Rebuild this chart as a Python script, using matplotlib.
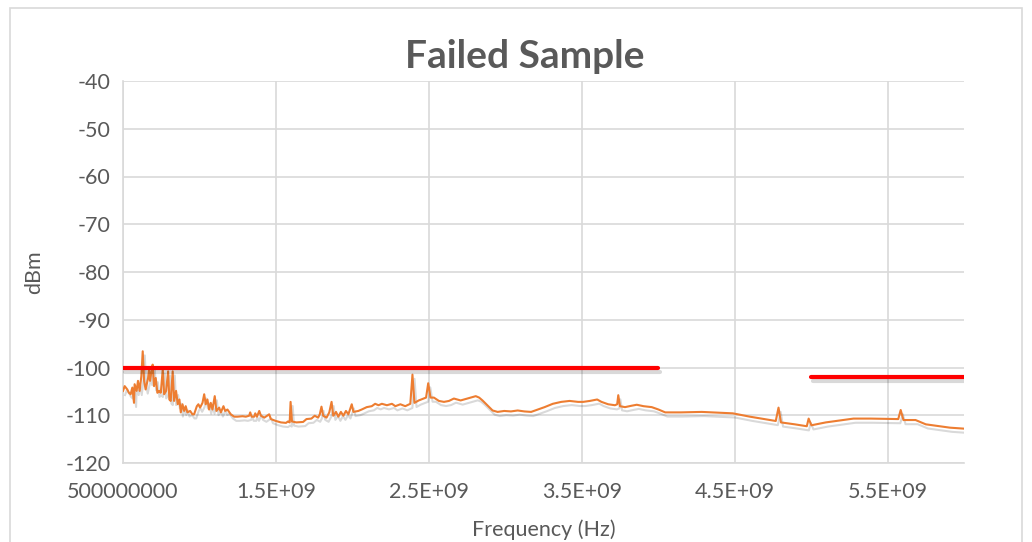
import matplotlib.pyplot as plt
import matplotlib.patheffects as pe
from matplotlib.patches import Rectangle

# trace: frequency in GHz, level in dBm
freq_ghz = [0.500, 0.511, 0.528, 0.539, 0.550, 0.561, 0.572, 0.576, 0.589, 0.598,
            0.609, 0.620, 0.629, 0.638, 0.648, 0.664, 0.670, 0.677, 0.686, 0.694,
            0.703, 0.714, 0.725, 0.736, 0.747, 0.760, 0.769, 0.782, 0.795, 0.803,
            0.812, 0.825, 0.834, 0.847, 0.858, 0.869, 0.878, 0.889, 0.900, 0.910,
            0.921, 0.939, 0.954, 0.965, 0.983, 0.993, 1.004, 1.020, 1.031, 1.041,
            1.052, 1.063, 1.074, 1.085, 1.100, 1.111, 1.129, 1.140, 1.157, 1.168,
            1.183, 1.205, 1.227, 1.249, 1.282, 1.303, 1.325, 1.332, 1.341, 1.358,
            1.365, 1.376, 1.391, 1.402, 1.424, 1.456, 1.467, 1.500, 1.533, 1.566,
            1.579, 1.590, 1.596, 1.605, 1.634, 1.678, 1.700, 1.732, 1.754, 1.776,
            1.787, 1.798, 1.809, 1.831, 1.849, 1.864, 1.875, 1.893, 1.908, 1.925,
            1.941, 1.958, 1.974, 1.996, 2.007, 2.039, 2.061, 2.094, 2.127, 2.149,
            2.171, 2.193, 2.226, 2.259, 2.281, 2.314, 2.346, 2.379, 2.393, 2.406,
            2.434, 2.467, 2.482, 2.496, 2.511, 2.533, 2.566, 2.599, 2.632, 2.664,
            2.708, 2.752, 2.785, 2.807, 2.829, 2.851, 2.873, 2.895, 2.917, 2.950,
            2.993, 3.037, 3.081, 3.125, 3.169, 3.213, 3.257, 3.311, 3.366, 3.421,
            3.476, 3.509, 3.553, 3.601, 3.629, 3.673, 3.717, 3.732, 3.739, 3.750,
            3.783, 3.827, 3.860, 3.904, 3.958, 4.002, 4.046, 4.149, 4.285, 4.488,
            4.600, 4.769, 4.787, 4.803, 4.893, 4.972, 4.984, 5.002, 5.096, 5.277,
            5.390, 5.570, 5.586, 5.604, 5.683, 5.750, 5.908, 5.998]
level_dbm = [-104.9, -103.9, -104.6, -105.3, -105.6, -104.2, -107.4, -103.5, -104.9, -102.8,
             -104.9, -101.8, -96.6, -102.8, -104.6, -102.2, -100.4, -102.8, -100.8, -99.4,
             -103.9, -102.2, -105.3, -104.9, -105.3, -100.4, -105.6, -104.9, -100.8, -106.7,
             -107.0, -100.8, -107.0, -104.9, -107.7, -106.7, -109.4, -107.7, -109.1, -108.1,
             -109.4, -109.1, -109.8, -109.8, -108.1, -107.7, -108.4, -107.4, -105.6, -107.7,
             -106.7, -108.8, -107.4, -108.8, -106.0, -109.1, -108.4, -109.4, -108.1, -109.1,
             -108.8, -109.8, -110.3, -110.3, -110.2, -110.3, -110.1, -109.4, -110.3, -110.3,
             -109.6, -110.3, -109.1, -110.1, -110.5, -109.8, -110.8, -111.2, -111.5, -111.6,
             -111.3, -111.5, -107.2, -111.3, -111.5, -111.4, -110.8, -110.7, -110.1, -110.5,
             -109.8, -108.2, -110.1, -110.5, -109.4, -107.2, -110.1, -109.3, -110.3, -109.3,
             -110.1, -109.1, -109.8, -107.7, -109.3, -109.1, -108.8, -108.3, -108.1, -107.6,
             -107.9, -107.6, -107.9, -107.6, -108.1, -107.7, -108.1, -107.6, -101.5, -107.4,
             -106.9, -106.5, -106.3, -103.3, -106.3, -106.3, -107.0, -107.2, -107.0, -106.5,
             -106.9, -106.5, -106.2, -106.0, -106.3, -106.9, -107.6, -108.3, -109.0, -109.3,
             -109.1, -109.2, -109.0, -109.2, -109.3, -108.8, -108.3, -107.6, -107.2, -107.0,
             -107.2, -107.2, -107.0, -106.7, -107.2, -107.7, -107.9, -107.7, -105.8, -108.1,
             -108.3, -108.0, -107.8, -108.1, -108.3, -108.8, -109.4, -109.4, -109.3, -109.6,
             -110.3, -111.2, -108.4, -111.5, -111.9, -112.3, -110.7, -112.1, -111.5, -110.7,
             -110.7, -110.8, -108.9, -111.0, -111.0, -111.9, -112.6, -112.8]

# limit lines
limit1_f = [0.5e9, 4.0e9]
limit1_v = [-100, -100]
limit2_f = [5.0e9, 6.0e9]
limit2_v = [-102, -102]

x_ticks = [0.5e9, 1.5e9, 2.5e9, 3.5e9, 4.5e9, 5.5e9]
x_labels = ['500000000', '1.5E+09', '2.5E+09', '3.5E+09', '4.5E+09', '5.5E+09']
y_ticks = [-120, -110, -100, -90, -80, -70, -60, -50, -40]

plt.rcParams['font.family'] = ['Lato', 'DejaVu Sans']
plt.rcParams['axes.unicode_minus'] = False
txt = '#595959'
grid = '#d9d9d9'

fig = plt.figure(figsize=(10.32, 5.42), dpi=100)
fig.patches.append(Rectangle((10 / 1032, -0.1), 1012 / 1032, 1 - 8 / 542 + 0.1,
                             transform=fig.transFigure, fill=False,
                             edgecolor=grid, linewidth=1.2))
ax = fig.add_axes([123 / 1032, 1 - 463 / 542, (964 - 123) / 1032, (463 - 81) / 542])

shadow = [pe.SimpleLineShadow(offset=(1.5, -3), shadow_color='k', alpha=0.15),
          pe.Normal()]
freq_hz = [f * 1e9 for f in freq_ghz]
ax.plot(freq_hz, level_dbm, color='#ED7D31', linewidth=1.5, path_effects=shadow, zorder=3)
ax.plot(limit1_f, limit1_v, color='#FF0000', linewidth=3, solid_capstyle='round',
        path_effects=shadow, zorder=4)
ax.plot(limit2_f, limit2_v, color='#FF0000', linewidth=3, solid_capstyle='round',
        path_effects=shadow, zorder=4)

ax.set_xlim(0.5e9, 6.0e9)
ax.set_ylim(-120, -40)
ax.set_xticks(x_ticks)
ax.set_xticklabels(x_labels)
ax.set_yticks(y_ticks)
ax.tick_params(length=0, labelsize=15.5, labelcolor=txt)
ax.tick_params(axis='x', pad=14)
ax.tick_params(axis='y', pad=9)
ax.grid(True, color=grid, linewidth=1.2)
ax.set_axisbelow(True)
for s in ['top', 'right']:
    ax.spines[s].set_visible(False)
for s in ['left', 'bottom']:
    ax.spines[s].set_color(grid)
    ax.spines[s].set_linewidth(1.2)

fig.text(525 / 1032, 1 - 57 / 542, 'Failed Sample', fontsize=28, fontweight='bold',
         color=txt, ha='center', va='center')
ax.set_xlabel('Frequency (Hz)', fontsize=15.5, color=txt, labelpad=12)
ax.set_ylabel('dBm', fontsize=15.5, color=txt, labelpad=15)

plt.savefig('out.png', dpi=100)
